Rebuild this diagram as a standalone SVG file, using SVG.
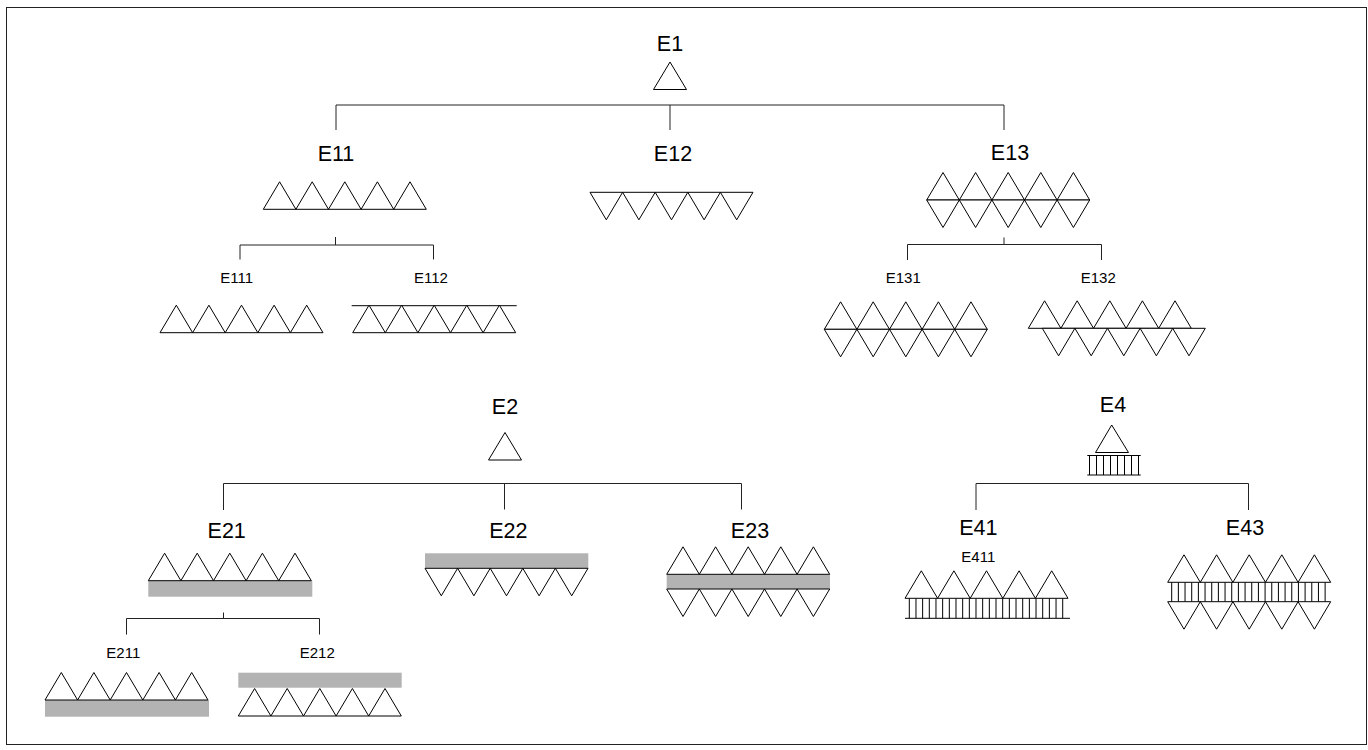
<svg xmlns="http://www.w3.org/2000/svg" xmlns:xlink="http://www.w3.org/1999/xlink" width="1368" height="750" viewBox="0 0 1368 750">
<style>
.ln{fill:none;stroke:#000;stroke-width:1}
.br{fill:none;stroke:#222;stroke-width:1}
.tri{fill:#fff;stroke:#000;stroke-width:1;stroke-linejoin:miter}
.bar{fill:#b3b3b3;stroke:none}
.big{font-family:"Liberation Sans",Arial,sans-serif;font-size:21.5px;fill:#000;text-anchor:middle}
.sm{font-family:"Liberation Sans",Arial,sans-serif;font-size:15px;fill:#000;text-anchor:middle}
</style>
<defs>
<path id="up" class="tri" d="M0,0 L16.3,-27.5 L32.6,0 L48.9,-27.5 L65.2,0 L81.5,-27.5 L97.8,0 L114.1,-27.5 L130.4,0 L146.7,-27.5 L163,0 Z"/>
<path id="down" class="tri" d="M0,0 L16.3,27.5 L32.6,0 L48.9,27.5 L65.2,0 L81.5,27.5 L97.8,0 L114.1,27.5 L130.4,0 L146.7,27.5 L163,0 Z"/>
</defs>
<rect x="6.5" y="7.5" width="1360" height="737" fill="#fff" stroke="#222" stroke-width="1"/>

<g id="connectors">
<path class="br" d="M336,130 V105 H1004 V130 M670,105 V130"/>
<path class="br" d="M240,259.5 V245 H433.5 V259.5 M335.5,237 V245"/>
<path class="br" d="M907.5,260 V244.5 H1101.5 V260 M1004,237.5 V244.5"/>
<path class="br" d="M223.5,510 V483.5 H741.5 V509.5 M504.5,483.5 V509.5"/>
<path class="br" d="M126.5,634.5 V618.5 H319.5 V634.5 M223.5,612.5 V618.5"/>
<path class="br" d="M976,510 V483.5 H1248.5 V510"/>
</g>

<g id="E1">
<text class="big" x="670" y="51">E1</text>
<polygon class="tri" points="670,62 653.5,89.5 686.5,89.5"/>
</g>

<g id="E11">
<text class="big" x="336" y="160.5">E11</text>
<use xlink:href="#up" x="263.3" y="209.3"/>
</g>
<g id="E111">
<text class="sm" x="236.7" y="283">E111</text>
<use xlink:href="#up" x="160" y="332.7"/>
</g>
<g id="E112">
<text class="sm" x="431" y="283">E112</text>
<path class="ln" d="M351.7,305.7 H516.7"/>
<use xlink:href="#up" x="352.7" y="332.7"/>
</g>

<g id="E12">
<text class="big" x="673" y="160.5">E12</text>
<use xlink:href="#down" x="590" y="192.3"/>
</g>

<g id="E13">
<text class="big" x="1010" y="160">E13</text>
<use xlink:href="#up" x="926.7" y="200"/>
<use xlink:href="#down" x="926.7" y="200"/>
</g>
<g id="E131">
<text class="sm" x="903.3" y="283">E131</text>
<use xlink:href="#up" x="824.3" y="329.3"/>
<use xlink:href="#down" x="824.3" y="329.3"/>
</g>
<g id="E132">
<text class="sm" x="1098.3" y="283">E132</text>
<use xlink:href="#up" x="1028.3" y="328.3"/>
<use xlink:href="#down" x="1042.3" y="328.3"/>
</g>

<g id="E2">
<text class="big" x="505" y="414">E2</text>
<polygon class="tri" points="505,432.5 488.5,460 521.5,460"/>
</g>

<g id="E21">
<text class="big" x="226.7" y="538">E21</text>
<rect class="bar" x="148.3" y="580.7" width="164" height="16"/>
<use xlink:href="#up" x="148.3" y="580.7"/>
</g>
<g id="E211">
<text class="sm" x="123.3" y="658">E211</text>
<rect class="bar" x="45" y="700" width="164" height="16.7"/>
<use xlink:href="#up" x="45" y="700"/>
</g>
<g id="E212">
<text class="sm" x="317.3" y="658">E212</text>
<rect class="bar" x="238.3" y="672.7" width="163.4" height="15"/>
<use xlink:href="#up" x="238.3" y="716"/>
</g>

<g id="E22">
<text class="big" x="508.3" y="538">E22</text>
<rect class="bar" x="425" y="553.3" width="163.3" height="15"/>
<use xlink:href="#down" x="425" y="568.3"/>
</g>

<g id="E23">
<text class="big" x="750" y="538">E23</text>
<rect class="bar" x="666.7" y="574.3" width="163.3" height="14.7"/>
<use xlink:href="#up" x="666.7" y="574.3"/>
<use xlink:href="#down" x="666.7" y="589"/>
</g>

<g id="E4">
<text class="big" x="1113" y="412">E4</text>
<polygon class="tri" points="1111.7,425 1095.5,452.5 1128.5,452.5"/>
<path class="ln" d="M1087.3,455.5 H1140.7 M1087.3,475 H1140.7 M1089.5,455.5 v19.5 m7,-19.5 v19.5 m7,-19.5 v19.5 m7,-19.5 v19.5 m7,-19.5 v19.5 m7,-19.5 v19.5 m7,-19.5 v19.5 m7,-19.5 v19.5"/>
</g>

<g id="E41">
<text class="big" x="978.3" y="534.5">E41</text>
<text class="sm" x="978.3" y="561.5">E411</text>
<path class="ln" d="M905,618.3 H1070 M909.3,598.3 v20 m6.67,-20 v20 m6.67,-20 v20 m6.67,-20 v20 m6.67,-20 v20 m6.67,-20 v20 m6.67,-20 v20 m6.67,-20 v20 m6.67,-20 v20 m6.67,-20 v20 m6.67,-20 v20 m6.67,-20 v20 m6.67,-20 v20 m6.67,-20 v20 m6.67,-20 v20 m6.67,-20 v20 m6.67,-20 v20 m6.67,-20 v20 m6.67,-20 v20 m6.67,-20 v20 m6.67,-20 v20 m6.67,-20 v20 m6.67,-20 v20 m6.67,-20 v20"/>
<use xlink:href="#up" x="905" y="598.3"/>
</g>

<g id="E43">
<text class="big" x="1245" y="534.5">E43</text>
<path class="ln" d="M1171.7,582.3 v19.4 m6.67,-19.4 v19.4 m6.67,-19.4 v19.4 m6.67,-19.4 v19.4 m6.67,-19.4 v19.4 m6.67,-19.4 v19.4 m6.67,-19.4 v19.4 m6.67,-19.4 v19.4 m6.67,-19.4 v19.4 m6.67,-19.4 v19.4 m6.67,-19.4 v19.4 m6.67,-19.4 v19.4 m6.67,-19.4 v19.4 m6.67,-19.4 v19.4 m6.67,-19.4 v19.4 m6.67,-19.4 v19.4 m6.67,-19.4 v19.4 m6.67,-19.4 v19.4 m6.67,-19.4 v19.4 m6.67,-19.4 v19.4 m6.67,-19.4 v19.4 m6.67,-19.4 v19.4 m6.67,-19.4 v19.4 m6.67,-19.4 v19.4"/>
<use xlink:href="#up" x="1167.7" y="582.3"/>
<use xlink:href="#down" x="1167.7" y="601.7"/>
</g>
</svg>
